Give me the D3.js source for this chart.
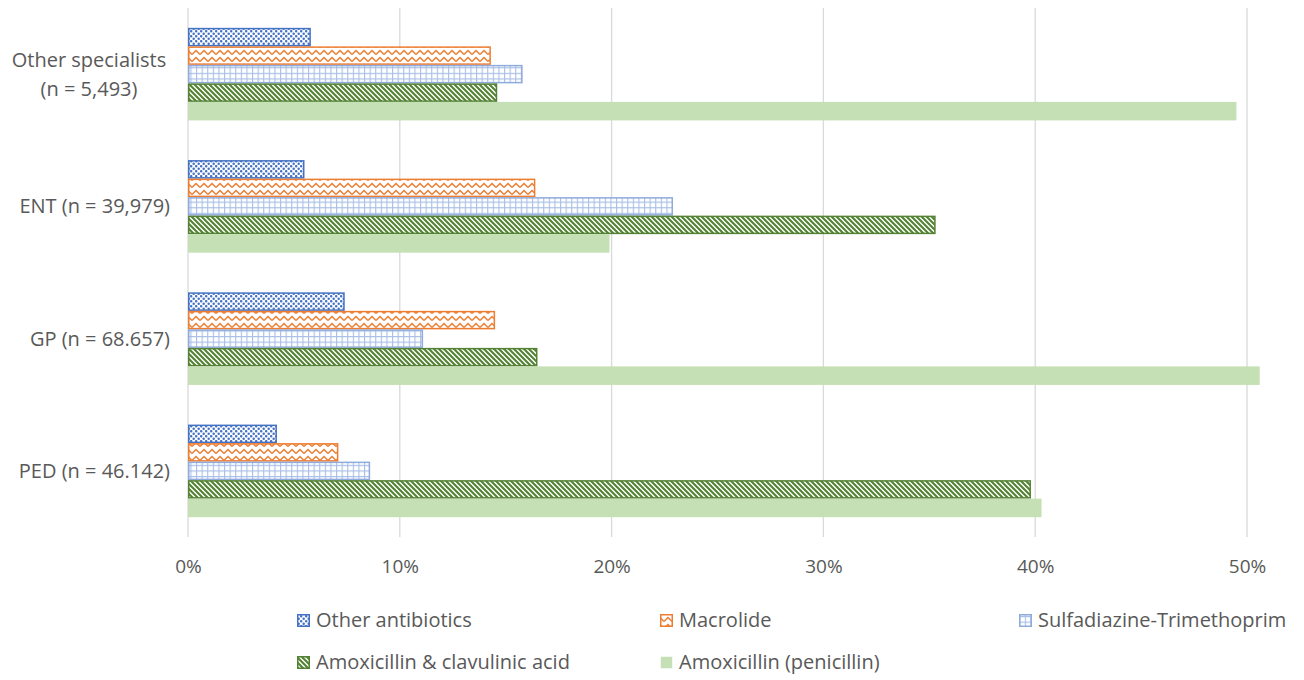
<!DOCTYPE html>
<html>
<head>
<meta charset="utf-8">
<script src="https://cdn.jsdelivr.net/npm/d3@7"></script>
<style>
  html, body { margin: 0; padding: 0; background: #fff; }
  svg { display: block; font-family: "Open Sans", "Noto Sans", sans-serif; }
</style>
</head>
<body>
<svg id="chart" width="1304" height="680"></svg>
<script>
// ---- data ----
const categories = ["Other specialists (n = 5,493)", "ENT (n = 39,979)", "GP (n = 68.657)", "PED (n = 46.142)"];
const seriesNames = ["Other antibiotics", "Macrolide", "Sulfadiazine-Trimethoprim", "Amoxicillin & clavulinic acid", "Amoxicillin (penicillin)"];
const otherAntibiotics = [0.058, 0.055, 0.074, 0.042];
const macrolide        = [0.143, 0.164, 0.145, 0.071];
const sulfaTrimeth     = [0.158, 0.229, 0.111, 0.086];
const amoxClav         = [0.146, 0.353, 0.165, 0.398];
const amoxicillin      = [0.495, 0.199, 0.506, 0.403];
const xTicks = [0, 0.1, 0.2, 0.3, 0.4, 0.5];

const seriesValues = [otherAntibiotics, macrolide, sulfaTrimeth, amoxClav, amoxicillin];
const seriesStyle = [
  { fill: "url(#pDots)", stroke: "#4472C4" },
  { fill: "url(#pZig)", stroke: "#ED7D31" },
  { fill: "url(#pGrid)", stroke: "#8FAADC" },
  { fill: "url(#pDiag)", stroke: "#548235" },
  { fill: "#C5E0B4", stroke: "none" }
];

const svg = d3.select("#chart");
const defs = svg.append("defs");

// dots pattern
const pd = defs.append("pattern").attr("id", "pDots").attr("patternUnits", "userSpaceOnUse")
  .attr("width", 5).attr("height", 5);
pd.append("rect").attr("width", 5).attr("height", 5).attr("fill", "#fff");
[[1.2, 1.2], [3.7, 3.7]].forEach(([cx, cy]) => {
  pd.append("circle").attr("cx", cx).attr("cy", cy).attr("r", 1.25).attr("fill", "#4472C4");
});

// zigzag pattern
const pz = defs.append("pattern").attr("id", "pZig").attr("patternUnits", "userSpaceOnUse")
  .attr("width", 8).attr("height", 7);
pz.append("rect").attr("width", 8).attr("height", 7).attr("fill", "#fff");
pz.append("path").attr("d", "M0,5.5 L4,1.5 L8,5.5").attr("fill", "none")
  .attr("stroke", "#ED7D31").attr("stroke-width", 1.5);

// grid pattern
const pg = defs.append("pattern").attr("id", "pGrid").attr("patternUnits", "userSpaceOnUse")
  .attr("width", 5.6).attr("height", 5.6);
pg.append("rect").attr("width", 5.6).attr("height", 5.6).attr("fill", "#fff");
pg.append("path").attr("d", "M0.5,0 V5.6 M0,0.5 H5.6").attr("stroke", "#A9BFE6").attr("stroke-width", 1.2);

// diagonal pattern (\ direction)
const pdg = defs.append("pattern").attr("id", "pDiag").attr("patternUnits", "userSpaceOnUse")
  .attr("width", 5).attr("height", 5);
pdg.append("rect").attr("width", 5).attr("height", 5).attr("fill", "#fff");
pdg.append("path").attr("d", "M-1,-1 L6,6 M-1,4 L1,6 M4,-1 L6,1")
  .attr("stroke", "#548235").attr("stroke-width", 2.1);

// scales
const x = d3.scaleLinear().domain([0, 0.5]).range([188, 1247]);
const y = d3.scaleBand().domain(categories).range([8, 537]).paddingInner(0.3).paddingOuter(0.15);
const ySub = d3.scaleBand().domain(seriesNames).range([0, y.bandwidth()]);

// gridlines
svg.append("g").selectAll("line").data(xTicks).join("line")
  .attr("x1", d => x(d)).attr("x2", d => x(d))
  .attr("y1", 8).attr("y2", 537)
  .attr("stroke", "#D9D9D9").attr("stroke-width", 1.3);

// x axis labels
const xAxis = d3.axisBottom(x).tickValues(xTicks).tickFormat(d3.format(".0%")).tickSize(0).tickPadding(0);
const gx = svg.append("g").attr("transform", "translate(0,559)").call(xAxis);
gx.select(".domain").remove();
gx.selectAll("text").attr("font-size", 19).attr("fill", "#595959")
  .attr("font-family", "'Open Sans', sans-serif").attr("dy", "0.72em");

// bars
seriesNames.forEach((name, si) => {
  const st = seriesStyle[si];
  const inset = st.stroke === "none" ? 0 : 0.75;
  svg.append("g").selectAll("rect").data(categories.map((c, i) => ({ c, v: seriesValues[si][i] })))
    .join("rect")
    .attr("x", x(0) + inset)
    .attr("y", d => y(d.c) + ySub(name) + inset)
    .attr("width", d => x(d.v) - x(0) - 2 * inset)
    .attr("height", ySub.bandwidth() - 2 * inset)
    .attr("fill", st.fill)
    .attr("stroke", st.stroke)
    .attr("stroke-width", 1.5);
});

// y axis labels
const ylab = svg.append("g");
categories.forEach(c => {
  const cy = y(c) + y.bandwidth() / 2;
  const idx = c.indexOf(" (n");
  const t = ylab.append("text").attr("font-size", 20).attr("fill", "#595959");
  if (c.startsWith("Other specialists")) {
    const lines = [c.slice(0, idx), c.slice(idx + 1)];
    t.attr("text-anchor", "middle");
    lines.forEach((ln, li) => {
      t.append("tspan").attr("x", 89).attr("y", cy + (li - 0.5) * 29).attr("dy", "0.35em").text(ln);
    });
  } else {
    t.attr("text-anchor", "end").attr("x", 170).attr("y", cy).attr("dy", "0.35em").text(c);
  }
});

// legend
const legendPos = [[297, 620], [660, 620], [1019, 620], [297, 662], [660, 662]];
const lg = svg.append("g");
seriesNames.forEach((name, si) => {
  const [lx, ly] = legendPos[si];
  const st = seriesStyle[si];
  lg.append("rect").attr("x", lx + 0.75).attr("y", ly - 6 + 0.75).attr("width", 11.5).attr("height", 11.5)
    .attr("fill", st.fill).attr("stroke", st.stroke).attr("stroke-width", 1.5);
  lg.append("text").attr("x", lx + 19).attr("y", ly).attr("dy", "0.35em")
    .attr("font-size", 20).attr("fill", "#595959").text(name);
});
</script>
</body>
</html>
